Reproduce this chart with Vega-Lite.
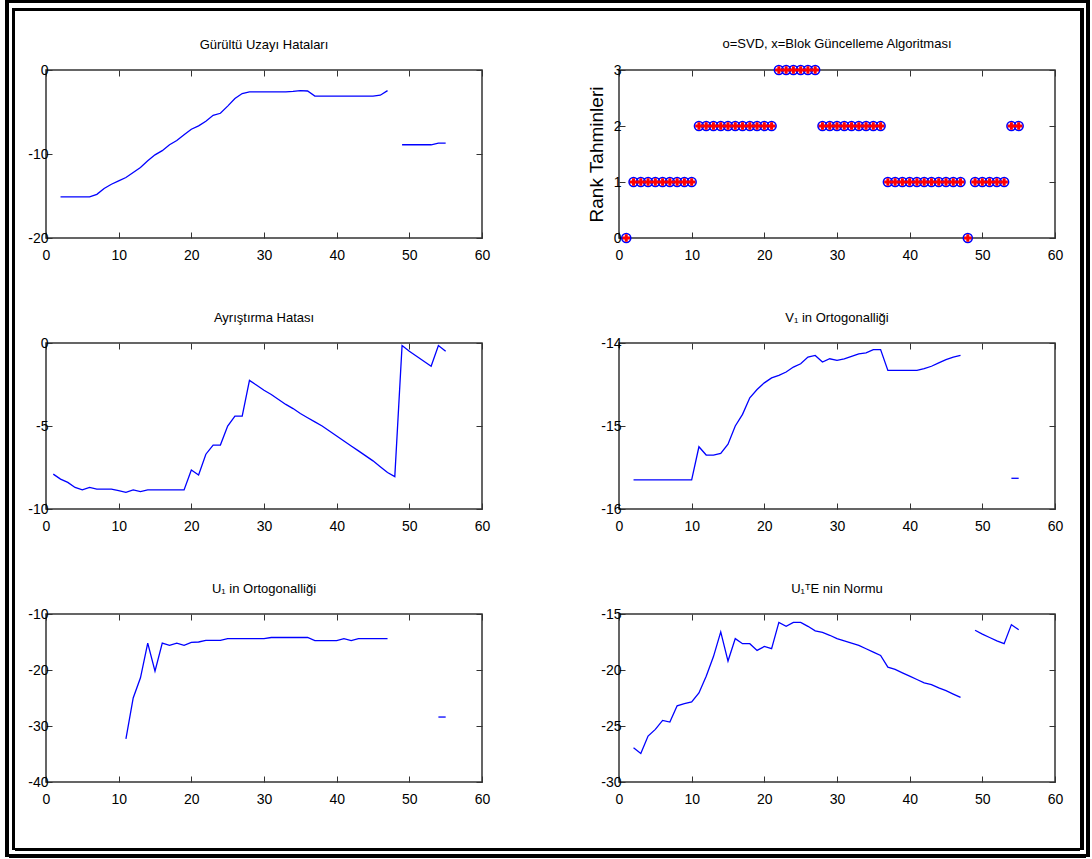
{
  "$schema": "https://vega.github.io/schema/vega-lite/v6.json",
  "padding": {"left": 5, "top": 0, "right": 2, "bottom": 2},
  "background": "white",
  "config": {
    "view": {"stroke": "#333", "strokeWidth": 1.5},
    "font": "Liberation Sans, Arial, sans-serif",
    "axis": {"grid": false, "domain": false, "minExtent": 0, "labelFlush": false, "labelOverlap": false, "tickColor": "#333", "tickWidth": 1, "tickSize": -6, "labelFont": "Liberation Sans, Arial, sans-serif", "labelFontSize": 14, "labelColor": "#000", "titleColor": "#000"},
    "axisBottom": {"labelPadding": 16},
    "axisLeft": {"labelPadding": 4},
    "title": {"font": "Liberation Sans, Arial, sans-serif", "fontSize": 13, "fontWeight": "normal", "color": "#000", "frame": "group", "anchor": "middle", "offset": 11}
  },
  "datasets": {
    "one": [{"k": 0}],
    "gurultu": [
      {"x":2,"y":-15.1,"s":"a"},{"x":3,"y":-15.1,"s":"a"},{"x":4,"y":-15.1,"s":"a"},{"x":5,"y":-15.1,"s":"a"},{"x":6,"y":-15.1,"s":"a"},{"x":7,"y":-14.8,"s":"a"},{"x":8,"y":-14.1,"s":"a"},{"x":9,"y":-13.6,"s":"a"},{"x":10,"y":-13.2,"s":"a"},{"x":11,"y":-12.8,"s":"a"},{"x":12,"y":-12.2,"s":"a"},{"x":13,"y":-11.6,"s":"a"},{"x":14,"y":-10.8,"s":"a"},{"x":15,"y":-10.1,"s":"a"},{"x":16,"y":-9.6,"s":"a"},{"x":17,"y":-8.9,"s":"a"},{"x":18,"y":-8.4,"s":"a"},{"x":19,"y":-7.7,"s":"a"},{"x":20,"y":-7.05,"s":"a"},{"x":21,"y":-6.65,"s":"a"},{"x":22,"y":-6.1,"s":"a"},{"x":23,"y":-5.4,"s":"a"},{"x":24,"y":-5.15,"s":"a"},{"x":25,"y":-4.3,"s":"a"},{"x":26,"y":-3.4,"s":"a"},{"x":27,"y":-2.8,"s":"a"},{"x":28,"y":-2.6,"s":"a"},{"x":29,"y":-2.6,"s":"a"},{"x":30,"y":-2.6,"s":"a"},{"x":31,"y":-2.6,"s":"a"},{"x":32,"y":-2.6,"s":"a"},{"x":33,"y":-2.6,"s":"a"},{"x":34,"y":-2.55,"s":"a"},{"x":35,"y":-2.45,"s":"a"},{"x":36,"y":-2.5,"s":"a"},{"x":37,"y":-3.1,"s":"a"},{"x":38,"y":-3.1,"s":"a"},{"x":39,"y":-3.1,"s":"a"},{"x":40,"y":-3.1,"s":"a"},{"x":41,"y":-3.1,"s":"a"},{"x":42,"y":-3.1,"s":"a"},{"x":43,"y":-3.1,"s":"a"},{"x":44,"y":-3.1,"s":"a"},{"x":45,"y":-3.1,"s":"a"},{"x":46,"y":-3.0,"s":"a"},{"x":47,"y":-2.45,"s":"a"},
      {"x":49,"y":-8.9,"s":"b"},{"x":50,"y":-8.9,"s":"b"},{"x":51,"y":-8.9,"s":"b"},{"x":52,"y":-8.9,"s":"b"},{"x":53,"y":-8.9,"s":"b"},{"x":54,"y":-8.7,"s":"b"},{"x":55,"y":-8.7,"s":"b"}
    ],
    "rank": [
      {"x":1,"r":0},{"x":2,"r":1},{"x":3,"r":1},{"x":4,"r":1},{"x":5,"r":1},{"x":6,"r":1},{"x":7,"r":1},{"x":8,"r":1},{"x":9,"r":1},{"x":10,"r":1},
      {"x":11,"r":2},{"x":12,"r":2},{"x":13,"r":2},{"x":14,"r":2},{"x":15,"r":2},{"x":16,"r":2},{"x":17,"r":2},{"x":18,"r":2},{"x":19,"r":2},{"x":20,"r":2},{"x":21,"r":2},
      {"x":22,"r":3},{"x":23,"r":3},{"x":24,"r":3},{"x":25,"r":3},{"x":26,"r":3},{"x":27,"r":3},
      {"x":28,"r":2},{"x":29,"r":2},{"x":30,"r":2},{"x":31,"r":2},{"x":32,"r":2},{"x":33,"r":2},{"x":34,"r":2},{"x":35,"r":2},{"x":36,"r":2},
      {"x":37,"r":1},{"x":38,"r":1},{"x":39,"r":1},{"x":40,"r":1},{"x":41,"r":1},{"x":42,"r":1},{"x":43,"r":1},{"x":44,"r":1},{"x":45,"r":1},{"x":46,"r":1},{"x":47,"r":1},
      {"x":48,"r":0},
      {"x":49,"r":1},{"x":50,"r":1},{"x":51,"r":1},{"x":52,"r":1},{"x":53,"r":1},
      {"x":54,"r":2},{"x":55,"r":2}
    ],
    "ayristirma": [
      {"x":1,"y":-7.9,"s":"a"},{"x":2,"y":-8.2,"s":"a"},{"x":3,"y":-8.4,"s":"a"},{"x":4,"y":-8.7,"s":"a"},{"x":5,"y":-8.85,"s":"a"},{"x":6,"y":-8.7,"s":"a"},{"x":7,"y":-8.8,"s":"a"},{"x":8,"y":-8.8,"s":"a"},{"x":9,"y":-8.8,"s":"a"},{"x":10,"y":-8.9,"s":"a"},{"x":11,"y":-9.0,"s":"a"},{"x":12,"y":-8.85,"s":"a"},{"x":13,"y":-8.95,"s":"a"},{"x":14,"y":-8.85,"s":"a"},{"x":15,"y":-8.85,"s":"a"},{"x":16,"y":-8.85,"s":"a"},{"x":17,"y":-8.85,"s":"a"},{"x":18,"y":-8.85,"s":"a"},{"x":19,"y":-8.85,"s":"a"},{"x":20,"y":-7.65,"s":"a"},{"x":21,"y":-7.95,"s":"a"},{"x":22,"y":-6.7,"s":"a"},{"x":23,"y":-6.15,"s":"a"},{"x":24,"y":-6.15,"s":"a"},{"x":25,"y":-5.0,"s":"a"},{"x":26,"y":-4.4,"s":"a"},{"x":27,"y":-4.4,"s":"a"},{"x":28,"y":-2.25,"s":"a"},{"x":29,"y":-2.55,"s":"a"},{"x":30,"y":-2.85,"s":"a"},{"x":31,"y":-3.1,"s":"a"},{"x":32,"y":-3.4,"s":"a"},{"x":33,"y":-3.7,"s":"a"},{"x":34,"y":-3.95,"s":"a"},{"x":35,"y":-4.25,"s":"a"},{"x":36,"y":-4.5,"s":"a"},{"x":37,"y":-4.75,"s":"a"},{"x":38,"y":-5.0,"s":"a"},{"x":39,"y":-5.3,"s":"a"},{"x":40,"y":-5.6,"s":"a"},{"x":41,"y":-5.9,"s":"a"},{"x":42,"y":-6.2,"s":"a"},{"x":43,"y":-6.5,"s":"a"},{"x":44,"y":-6.8,"s":"a"},{"x":45,"y":-7.1,"s":"a"},{"x":46,"y":-7.45,"s":"a"},{"x":47,"y":-7.8,"s":"a"},{"x":48,"y":-8.05,"s":"a"},{"x":49,"y":-0.15,"s":"a"},{"x":50,"y":-0.5,"s":"a"},{"x":51,"y":-0.8,"s":"a"},{"x":52,"y":-1.1,"s":"a"},{"x":53,"y":-1.4,"s":"a"},{"x":54,"y":-0.15,"s":"a"},{"x":55,"y":-0.5,"s":"a"}
    ],
    "v1": [
      {"x":2,"y":-15.65,"s":"a"},{"x":3,"y":-15.65,"s":"a"},{"x":4,"y":-15.65,"s":"a"},{"x":5,"y":-15.65,"s":"a"},{"x":6,"y":-15.65,"s":"a"},{"x":7,"y":-15.65,"s":"a"},{"x":8,"y":-15.65,"s":"a"},{"x":9,"y":-15.65,"s":"a"},{"x":10,"y":-15.65,"s":"a"},{"x":11,"y":-15.25,"s":"a"},{"x":12,"y":-15.35,"s":"a"},{"x":13,"y":-15.35,"s":"a"},{"x":14,"y":-15.33,"s":"a"},{"x":15,"y":-15.22,"s":"a"},{"x":16,"y":-15.0,"s":"a"},{"x":17,"y":-14.86,"s":"a"},{"x":18,"y":-14.66,"s":"a"},{"x":19,"y":-14.56,"s":"a"},{"x":20,"y":-14.48,"s":"a"},{"x":21,"y":-14.42,"s":"a"},{"x":22,"y":-14.39,"s":"a"},{"x":23,"y":-14.35,"s":"a"},{"x":24,"y":-14.29,"s":"a"},{"x":25,"y":-14.25,"s":"a"},{"x":26,"y":-14.17,"s":"a"},{"x":27,"y":-14.15,"s":"a"},{"x":28,"y":-14.23,"s":"a"},{"x":29,"y":-14.19,"s":"a"},{"x":30,"y":-14.21,"s":"a"},{"x":31,"y":-14.19,"s":"a"},{"x":32,"y":-14.16,"s":"a"},{"x":33,"y":-14.13,"s":"a"},{"x":34,"y":-14.12,"s":"a"},{"x":35,"y":-14.08,"s":"a"},{"x":36,"y":-14.08,"s":"a"},{"x":37,"y":-14.33,"s":"a"},{"x":38,"y":-14.33,"s":"a"},{"x":39,"y":-14.33,"s":"a"},{"x":40,"y":-14.33,"s":"a"},{"x":41,"y":-14.33,"s":"a"},{"x":42,"y":-14.31,"s":"a"},{"x":43,"y":-14.28,"s":"a"},{"x":44,"y":-14.24,"s":"a"},{"x":45,"y":-14.2,"s":"a"},{"x":46,"y":-14.17,"s":"a"},{"x":47,"y":-14.15,"s":"a"},
      {"x":54,"y":-15.63,"s":"b"},{"x":55,"y":-15.63,"s":"b"}
    ],
    "u1": [
      {"x":11,"y":-32.3,"s":"a"},{"x":12,"y":-25.0,"s":"a"},{"x":13,"y":-21.4,"s":"a"},{"x":14,"y":-15.2,"s":"a"},{"x":15,"y":-20.2,"s":"a"},{"x":16,"y":-15.2,"s":"a"},{"x":17,"y":-15.6,"s":"a"},{"x":18,"y":-15.2,"s":"a"},{"x":19,"y":-15.6,"s":"a"},{"x":20,"y":-15.05,"s":"a"},{"x":21,"y":-15.0,"s":"a"},{"x":22,"y":-14.7,"s":"a"},{"x":23,"y":-14.7,"s":"a"},{"x":24,"y":-14.7,"s":"a"},{"x":25,"y":-14.4,"s":"a"},{"x":26,"y":-14.4,"s":"a"},{"x":27,"y":-14.4,"s":"a"},{"x":28,"y":-14.4,"s":"a"},{"x":29,"y":-14.4,"s":"a"},{"x":30,"y":-14.4,"s":"a"},{"x":31,"y":-14.2,"s":"a"},{"x":32,"y":-14.2,"s":"a"},{"x":33,"y":-14.2,"s":"a"},{"x":34,"y":-14.2,"s":"a"},{"x":35,"y":-14.2,"s":"a"},{"x":36,"y":-14.2,"s":"a"},{"x":37,"y":-14.75,"s":"a"},{"x":38,"y":-14.75,"s":"a"},{"x":39,"y":-14.75,"s":"a"},{"x":40,"y":-14.75,"s":"a"},{"x":41,"y":-14.4,"s":"a"},{"x":42,"y":-14.75,"s":"a"},{"x":43,"y":-14.4,"s":"a"},{"x":44,"y":-14.4,"s":"a"},{"x":45,"y":-14.4,"s":"a"},{"x":46,"y":-14.4,"s":"a"},{"x":47,"y":-14.4,"s":"a"},
      {"x":54,"y":-28.4,"s":"b"},{"x":55,"y":-28.4,"s":"b"}
    ],
    "ute": [
      {"x":2,"y":-26.95,"s":"a"},{"x":3,"y":-27.45,"s":"a"},{"x":4,"y":-25.9,"s":"a"},{"x":5,"y":-25.3,"s":"a"},{"x":6,"y":-24.5,"s":"a"},{"x":7,"y":-24.65,"s":"a"},{"x":8,"y":-23.2,"s":"a"},{"x":9,"y":-23.0,"s":"a"},{"x":10,"y":-22.85,"s":"a"},{"x":11,"y":-22.05,"s":"a"},{"x":12,"y":-20.55,"s":"a"},{"x":13,"y":-18.8,"s":"a"},{"x":14,"y":-16.6,"s":"a"},{"x":15,"y":-19.2,"s":"a"},{"x":16,"y":-17.2,"s":"a"},{"x":17,"y":-17.65,"s":"a"},{"x":18,"y":-17.65,"s":"a"},{"x":19,"y":-18.25,"s":"a"},{"x":20,"y":-17.9,"s":"a"},{"x":21,"y":-18.1,"s":"a"},{"x":22,"y":-15.75,"s":"a"},{"x":23,"y":-16.1,"s":"a"},{"x":24,"y":-15.75,"s":"a"},{"x":25,"y":-15.75,"s":"a"},{"x":26,"y":-16.1,"s":"a"},{"x":27,"y":-16.5,"s":"a"},{"x":28,"y":-16.65,"s":"a"},{"x":29,"y":-16.9,"s":"a"},{"x":30,"y":-17.2,"s":"a"},{"x":31,"y":-17.4,"s":"a"},{"x":32,"y":-17.6,"s":"a"},{"x":33,"y":-17.8,"s":"a"},{"x":34,"y":-18.1,"s":"a"},{"x":35,"y":-18.4,"s":"a"},{"x":36,"y":-18.7,"s":"a"},{"x":37,"y":-19.75,"s":"a"},{"x":38,"y":-19.95,"s":"a"},{"x":39,"y":-20.25,"s":"a"},{"x":40,"y":-20.55,"s":"a"},{"x":41,"y":-20.85,"s":"a"},{"x":42,"y":-21.15,"s":"a"},{"x":43,"y":-21.3,"s":"a"},{"x":44,"y":-21.6,"s":"a"},{"x":45,"y":-21.85,"s":"a"},{"x":46,"y":-22.15,"s":"a"},{"x":47,"y":-22.45,"s":"a"},
      {"x":49,"y":-16.45,"s":"b"},{"x":50,"y":-16.8,"s":"b"},{"x":51,"y":-17.1,"s":"b"},{"x":52,"y":-17.4,"s":"b"},{"x":53,"y":-17.65,"s":"b"},{"x":54,"y":-15.95,"s":"b"},{"x":55,"y":-16.4,"s":"b"}
    ]
  },
  "spacing": 0,
  "hconcat": [
    {"width": 4, "height": 857, "view": {"fill": "#000", "stroke": null}, "data": {"name": "one"}, "mark": {"type": "point", "size": 0, "strokeWidth": 0, "opacity": 0}, "encoding": {}},
    {
      "spacing": 0,
      "vconcat": [
        {"width": 1077, "height": 3, "view": {"fill": "#000", "stroke": null}, "data": {"name": "one"}, "mark": {"type": "point", "size": 0, "strokeWidth": 0, "opacity": 0}, "encoding": {}},
        {"width": 1, "height": 5, "view": {"stroke": null}, "data": {"name": "one"}, "mark": {"type": "point", "size": 0, "strokeWidth": 0, "opacity": 0}, "encoding": {}},
        {
          "spacing": 0,
          "hconcat": [
            {"width": 3, "height": 1, "view": {"stroke": null}, "data": {"name": "one"}, "mark": {"type": "point", "size": 0, "strokeWidth": 0, "opacity": 0}, "encoding": {}},
            {"width": 3, "height": 842, "view": {"fill": "#000", "stroke": null}, "data": {"name": "one"}, "mark": {"type": "point", "size": 0, "strokeWidth": 0, "opacity": 0}, "encoding": {}},
            {
              "spacing": 0,
              "vconcat": [
                {"width": 1065, "height": 3, "view": {"fill": "#000", "stroke": null}, "data": {"name": "one"}, "mark": {"type": "point", "size": 0, "strokeWidth": 0, "opacity": 0}, "encoding": {}},
                {"width": 1, "height": 26, "view": {"stroke": null}, "data": {"name": "one"}, "mark": {"type": "point", "size": 0, "strokeWidth": 0, "opacity": 0}, "encoding": {}},
                {
                  "spacing": 0,
                  "hconcat": [
                    {"width": 12, "height": 778, "view": {"stroke": null}, "data": {"name": "one"}, "mark": {"type": "point", "size": 0, "strokeWidth": 0, "opacity": 0}, "encoding": {}},
                    {
                      "columns": 2,
                      "spacing": {"row": 48, "column": 95},
                      "concat": [
                        {
                          "width": 436, "height": 168,
                          "title": "Gürültü Uzayı Hataları",
                          "data": {"name": "gurultu"},
                          "layer": [
                            {"mark": {"type": "line", "color": "#0000ff", "strokeWidth": 1.3},
                             "encoding": {
                               "x": {"field": "x", "type": "quantitative", "scale": {"domain": [0, 60], "nice": false, "zero": false}, "axis": {"orient": "bottom", "values": [0,10,20,30,40,50,60], "title": null}},
                               "y": {"field": "y", "type": "quantitative", "scale": {"domain": [-20, 0], "nice": false, "zero": false}, "axis": {"orient": "left", "values": [-20,-10,0], "title": null, "labelExpr": "datum.value < 0 ? '-' + abs(datum.value) : '' + datum.value"}},
                               "detail": {"field": "s", "type": "nominal"}}},
                            {"mark": {"type": "line", "opacity": 0},
                             "encoding": {
                               "x": {"field": "x", "type": "quantitative", "axis": {"orient": "top", "values": [0,10,20,30,40,50,60], "labels": false, "title": null}},
                               "y": {"field": "y", "type": "quantitative", "axis": {"orient": "right", "values": [-20,-10,0], "labels": false, "title": null}},
                               "detail": {"field": "s", "type": "nominal"}}}
                          ],
                          "resolve": {"axis": {"x": "independent", "y": "independent"}}
                        },
                        {
                          "width": 436, "height": 168,
                          "title": "o=SVD, x=Blok Güncelleme Algoritması",
                          "data": {"name": "rank"},
                          "layer": [
                            {"mark": {"type": "point", "shape": "circle", "filled": false, "color": "#0000ff", "strokeWidth": 1.6, "size": 80, "opacity": 1},
                             "encoding": {
                               "x": {"field": "x", "type": "quantitative", "scale": {"domain": [0, 60], "nice": false, "zero": false}, "axis": {"orient": "bottom", "values": [0,10,20,30,40,50,60], "title": null}},
                               "y": {"field": "r", "type": "quantitative", "scale": {"domain": [0, 3], "nice": false, "zero": false}, "axis": {"orient": "left", "values": [0,1,2,3], "title": "Rank Tahminleri", "titleFont": "Liberation Sans, Arial, sans-serif", "titleFontSize": 19, "titleFontWeight": "normal", "titlePadding": 7}}}},
                            {"mark": {"type": "point", "shape": "cross", "filled": true, "color": "#ff0000", "size": 55, "opacity": 1},
                             "encoding": {
                               "x": {"field": "x", "type": "quantitative", "axis": {"orient": "top", "values": [0,10,20,30,40,50,60], "labels": false, "title": null}},
                               "y": {"field": "r", "type": "quantitative", "axis": {"orient": "right", "values": [0,1,2,3], "labels": false, "title": null}}}}
                          ],
                          "resolve": {"axis": {"x": "independent", "y": "independent"}}
                        },
                        {
                          "width": 436, "height": 166,
                          "title": "Ayrıştırma Hatası",
                          "data": {"name": "ayristirma"},
                          "layer": [
                            {"mark": {"type": "line", "color": "#0000ff", "strokeWidth": 1.3},
                             "encoding": {
                               "x": {"field": "x", "type": "quantitative", "scale": {"domain": [0, 60], "nice": false, "zero": false}, "axis": {"orient": "bottom", "values": [0,10,20,30,40,50,60], "title": null}},
                               "y": {"field": "y", "type": "quantitative", "scale": {"domain": [-10, 0], "nice": false, "zero": false}, "axis": {"orient": "left", "values": [-10,-5,0], "title": null, "labelExpr": "datum.value < 0 ? '-' + abs(datum.value) : '' + datum.value"}},
                               "detail": {"field": "s", "type": "nominal"}}},
                            {"mark": {"type": "line", "opacity": 0},
                             "encoding": {
                               "x": {"field": "x", "type": "quantitative", "axis": {"orient": "top", "values": [0,10,20,30,40,50,60], "labels": false, "title": null}},
                               "y": {"field": "y", "type": "quantitative", "axis": {"orient": "right", "values": [-10,-5,0], "labels": false, "title": null}},
                               "detail": {"field": "s", "type": "nominal"}}}
                          ],
                          "resolve": {"axis": {"x": "independent", "y": "independent"}}
                        },
                        {
                          "width": 436, "height": 166,
                          "title": "V₁ in Ortogonalliği",
                          "data": {"name": "v1"},
                          "layer": [
                            {"mark": {"type": "line", "color": "#0000ff", "strokeWidth": 1.3},
                             "encoding": {
                               "x": {"field": "x", "type": "quantitative", "scale": {"domain": [0, 60], "nice": false, "zero": false}, "axis": {"orient": "bottom", "values": [0,10,20,30,40,50,60], "title": null}},
                               "y": {"field": "y", "type": "quantitative", "scale": {"domain": [-16, -14], "nice": false, "zero": false}, "axis": {"orient": "left", "values": [-16,-15,-14], "title": null, "labelExpr": "datum.value < 0 ? '-' + abs(datum.value) : '' + datum.value"}},
                               "detail": {"field": "s", "type": "nominal"}}},
                            {"mark": {"type": "line", "opacity": 0},
                             "encoding": {
                               "x": {"field": "x", "type": "quantitative", "axis": {"orient": "top", "values": [0,10,20,30,40,50,60], "labels": false, "title": null}},
                               "y": {"field": "y", "type": "quantitative", "axis": {"orient": "right", "values": [-16,-15,-14], "labels": false, "title": null}},
                               "detail": {"field": "s", "type": "nominal"}}}
                          ],
                          "resolve": {"axis": {"x": "independent", "y": "independent"}}
                        },
                        {
                          "width": 436, "height": 168,
                          "title": "U₁ in Ortogonalliği",
                          "data": {"name": "u1"},
                          "layer": [
                            {"mark": {"type": "line", "color": "#0000ff", "strokeWidth": 1.3},
                             "encoding": {
                               "x": {"field": "x", "type": "quantitative", "scale": {"domain": [0, 60], "nice": false, "zero": false}, "axis": {"orient": "bottom", "values": [0,10,20,30,40,50,60], "title": null}},
                               "y": {"field": "y", "type": "quantitative", "scale": {"domain": [-40, -10], "nice": false, "zero": false}, "axis": {"orient": "left", "values": [-40,-30,-20,-10], "title": null, "labelExpr": "datum.value < 0 ? '-' + abs(datum.value) : '' + datum.value"}},
                               "detail": {"field": "s", "type": "nominal"}}},
                            {"mark": {"type": "line", "opacity": 0},
                             "encoding": {
                               "x": {"field": "x", "type": "quantitative", "axis": {"orient": "top", "values": [0,10,20,30,40,50,60], "labels": false, "title": null}},
                               "y": {"field": "y", "type": "quantitative", "axis": {"orient": "right", "values": [-40,-30,-20,-10], "labels": false, "title": null}},
                               "detail": {"field": "s", "type": "nominal"}}}
                          ],
                          "resolve": {"axis": {"x": "independent", "y": "independent"}}
                        },
                        {
                          "width": 436, "height": 168,
                          "title": "U₁ᵀE nin Normu",
                          "data": {"name": "ute"},
                          "layer": [
                            {"mark": {"type": "line", "color": "#0000ff", "strokeWidth": 1.3},
                             "encoding": {
                               "x": {"field": "x", "type": "quantitative", "scale": {"domain": [0, 60], "nice": false, "zero": false}, "axis": {"orient": "bottom", "values": [0,10,20,30,40,50,60], "title": null}},
                               "y": {"field": "y", "type": "quantitative", "scale": {"domain": [-30, -15], "nice": false, "zero": false}, "axis": {"orient": "left", "values": [-30,-25,-20,-15], "title": null, "labelExpr": "datum.value < 0 ? '-' + abs(datum.value) : '' + datum.value"}},
                               "detail": {"field": "s", "type": "nominal"}}},
                            {"mark": {"type": "line", "opacity": 0},
                             "encoding": {
                               "x": {"field": "x", "type": "quantitative", "axis": {"orient": "top", "values": [0,10,20,30,40,50,60], "labels": false, "title": null}},
                               "y": {"field": "y", "type": "quantitative", "axis": {"orient": "right", "values": [-30,-25,-20,-15], "labels": false, "title": null}},
                               "detail": {"field": "s", "type": "nominal"}}}
                          ],
                          "resolve": {"axis": {"x": "independent", "y": "independent"}}
                        }
                      ]
                    }
                  ]
                },
                {"width": 1065, "height": 3, "view": {"fill": "#000", "stroke": null}, "data": {"name": "one"}, "mark": {"type": "point", "size": 0, "strokeWidth": 0, "opacity": 0}, "encoding": {}}
              ]
            },
            {"width": 4, "height": 842, "view": {"fill": "#000", "stroke": null}, "data": {"name": "one"}, "mark": {"type": "point", "size": 0, "strokeWidth": 0, "opacity": 0}, "encoding": {}},
            {"width": 2, "height": 1, "view": {"stroke": null}, "data": {"name": "one"}, "mark": {"type": "point", "size": 0, "strokeWidth": 0, "opacity": 0}, "encoding": {}}
          ]
        },
        {"width": 1, "height": 3, "view": {"stroke": null}, "data": {"name": "one"}, "mark": {"type": "point", "size": 0, "strokeWidth": 0, "opacity": 0}, "encoding": {}},
        {"width": 1077, "height": 4, "view": {"fill": "#000", "stroke": null}, "data": {"name": "one"}, "mark": {"type": "point", "size": 0, "strokeWidth": 0, "opacity": 0}, "encoding": {}}
      ]
    },
    {"width": 4, "height": 857, "view": {"fill": "#000", "stroke": null}, "data": {"name": "one"}, "mark": {"type": "point", "size": 0, "strokeWidth": 0, "opacity": 0}, "encoding": {}}
  ]
}
